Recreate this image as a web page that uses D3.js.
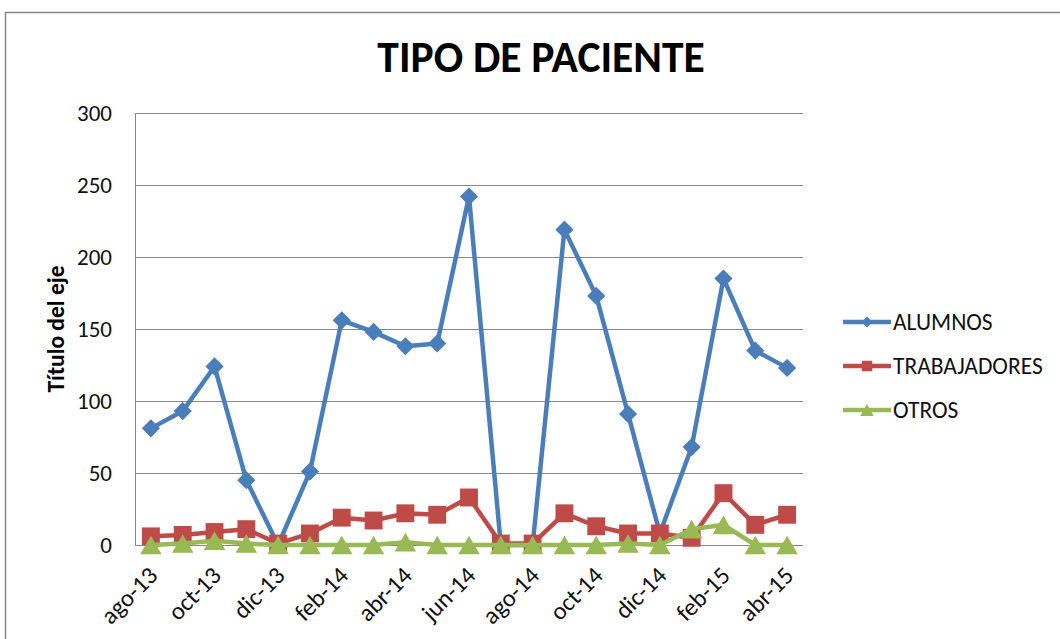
<!DOCTYPE html>
<html>
<head>
<meta charset="utf-8">
<script src="https://cdn.jsdelivr.net/npm/d3@7"></script>
<style>
  body { margin: 0; background: #fff; }
  svg { display: block; font-family: Carlito, "Liberation Sans", sans-serif; }
</style>
</head>
<body>
<div id="chart"></div>
<script>
// months from ago-13 to abr-15
var months = ["ago-13", "sep-13", "oct-13", "nov-13", "dic-13", "ene-14", "feb-14", "mar-14",
  "abr-14", "may-14", "jun-14", "jul-14", "ago-14", "sep-14", "oct-14", "nov-14", "dic-14",
  "ene-15", "feb-15", "mar-15", "abr-15"];
var alumnos = [81, 93, 124, 45, 0, 51, 156, 148, 138, 140, 242, 0, 0, 219, 173, 91, 8, 68, 185, 135, 123];
var trabajadores = [6, 7, 9, 11, 1, 8, 19, 17, 22, 21, 33, 1, 1, 22, 13, 8, 8, 5, 36, 14, 21];
var otros = [0, 1, 3, 1, 0, 0, 0, 0, 2, 0, 0, 0, 0, 0, 0, 1, 0, 11, 14, 0, 0];
var yTicks = [0, 50, 100, 150, 200, 250, 300];

var series = [
  { name: "ALUMNOS", values: alumnos, color: "#4A7EBB", shape: "diamond" },
  { name: "TRABAJADORES", values: trabajadores, color: "#BE4B48", shape: "square" },
  { name: "OTROS", values: otros, color: "#98B954", shape: "triangle" }
];

var width = 1060, height = 639;
var margin = { left: 135, right: 257, top: 113, bottom: 94 };

// marker sizes (d3.symbol area) for plot and legend
var markerSize = {
  diamond: [165, 60],
  square: [320, 110],
  triangle: [200, 80]
};

function marker(shape, big) {
  var s = markerSize[shape][big ? 0 : 1];
  var type = shape === "triangle" ? d3.symbolTriangle : d3.symbolSquare;
  return d3.symbol().type(type).size(s)();
}
// diamonds are rotated squares, triangles are centred on their box, not centroid
function adjust(shape, big) {
  if (shape === "diamond") return " rotate(45)";
  if (shape === "triangle") {
    var s = markerSize[shape][big ? 0 : 1];
    var side = Math.sqrt(4 * s / Math.sqrt(3));
    return " translate(0," + (side * Math.sqrt(3) / 2 / 6) + ")";
  }
  return "";
}

var svg = d3.select("#chart").append("svg")
  .attr("width", width)
  .attr("height", height);

// chart frame
svg.append("rect")
  .attr("x", 5.5).attr("y", 12.5)
  .attr("width", width).attr("height", height)
  .attr("fill", "none")
  .attr("stroke", "#868686")
  .attr("stroke-width", 1.5);

var x = d3.scaleBand()
  .domain(months)
  .range([margin.left, width - margin.right]);

var y = d3.scaleLinear()
  .domain([0, 300])
  .range([height - margin.bottom, margin.top]);

// gridlines
svg.append("g")
  .selectAll("line")
  .data(yTicks)
  .enter()
  .append("line")
  .attr("x1", margin.left)
  .attr("x2", width - margin.right)
  .attr("y1", function (d) { return Math.round(y(d)) + 0.5; })
  .attr("y2", function (d) { return Math.round(y(d)) + 0.5; })
  .attr("stroke", "#868686")
  .attr("stroke-width", 1);

// y axis line
svg.append("line")
  .attr("x1", margin.left + 0.5).attr("x2", margin.left + 0.5)
  .attr("y1", y(300)).attr("y2", y(0))
  .attr("stroke", "#868686");

// y tick labels
svg.append("g")
  .selectAll("text")
  .data(yTicks)
  .enter()
  .append("text")
  .attr("x", 112)
  .attr("y", function (d) { return y(d); })
  .attr("dy", "0.33em")
  .attr("text-anchor", "end")
  .attr("font-size", 23)
  .attr("fill", "#111")
  .text(function (d) { return d; });

// x tick labels (every other month)
svg.append("g")
  .selectAll("text")
  .data(months.filter(function (d, i) { return i % 2 === 0; }))
  .enter()
  .append("text")
  .attr("transform", function (d) {
    var cx = x(d) + x.bandwidth() / 2 + 2;
    return "translate(" + cx + ",571) rotate(-45)";
  })
  .attr("text-anchor", "end")
  .attr("dy", "0.35em")
  .attr("font-size", 24.5)
  .attr("fill", "#111")
  .text(function (d) { return d; });

// axis title
svg.append("text")
  .attr("transform", "translate(64," + y(150) + ") rotate(-90)")
  .attr("text-anchor", "middle")
  .attr("font-size", 23.5)
  .attr("font-weight", "bold")
  .text("Título del eje");

// chart title
svg.append("text")
  .attr("x", 541)
  .attr("y", 72)
  .attr("text-anchor", "middle")
  .attr("font-size", 43.5)
  .attr("font-weight", "bold")
  .text("TIPO DE PACIENTE");

var line = d3.line()
  .x(function (d, i) { return x(months[i]) + x.bandwidth() / 2; })
  .y(function (d) { return y(d); });

series.forEach(function (s) {
  var g = svg.append("g");
  g.append("path")
    .datum(s.values)
    .attr("d", line)
    .attr("fill", "none")
    .attr("stroke", s.color)
    .attr("stroke-width", 4.5)
    .attr("stroke-linejoin", "round");

  g.selectAll("path.marker")
    .data(s.values)
    .enter()
    .append("path")
    .attr("class", "marker")
    .attr("d", marker(s.shape, true))
    .attr("transform", function (d, i) {
      return "translate(" + (x(months[i]) + x.bandwidth() / 2) + "," + y(d) + ")" + adjust(s.shape, true);
    })
    .attr("fill", s.color);
});

// legend
var legend = svg.append("g")
  .selectAll("g")
  .data(series)
  .enter()
  .append("g")
  .attr("transform", function (d, i) { return "translate(843," + (322 + i * 44) + ")"; });

legend.append("line")
  .attr("x1", 0).attr("x2", 48)
  .attr("stroke", function (d) { return d.color; })
  .attr("stroke-width", 4.5);

legend.append("path")
  .attr("d", function (d) { return marker(d.shape, false); })
  .attr("transform", function (d) { return "translate(24,0)" + adjust(d.shape, false); })
  .attr("fill", function (d) { return d.color; });

legend.append("text")
  .attr("x", 50)
  .attr("dy", "0.33em")
  .attr("font-size", 23.5)
  .attr("fill", "#111")
  .text(function (d) { return d.name; });
</script>
</body>
</html>
